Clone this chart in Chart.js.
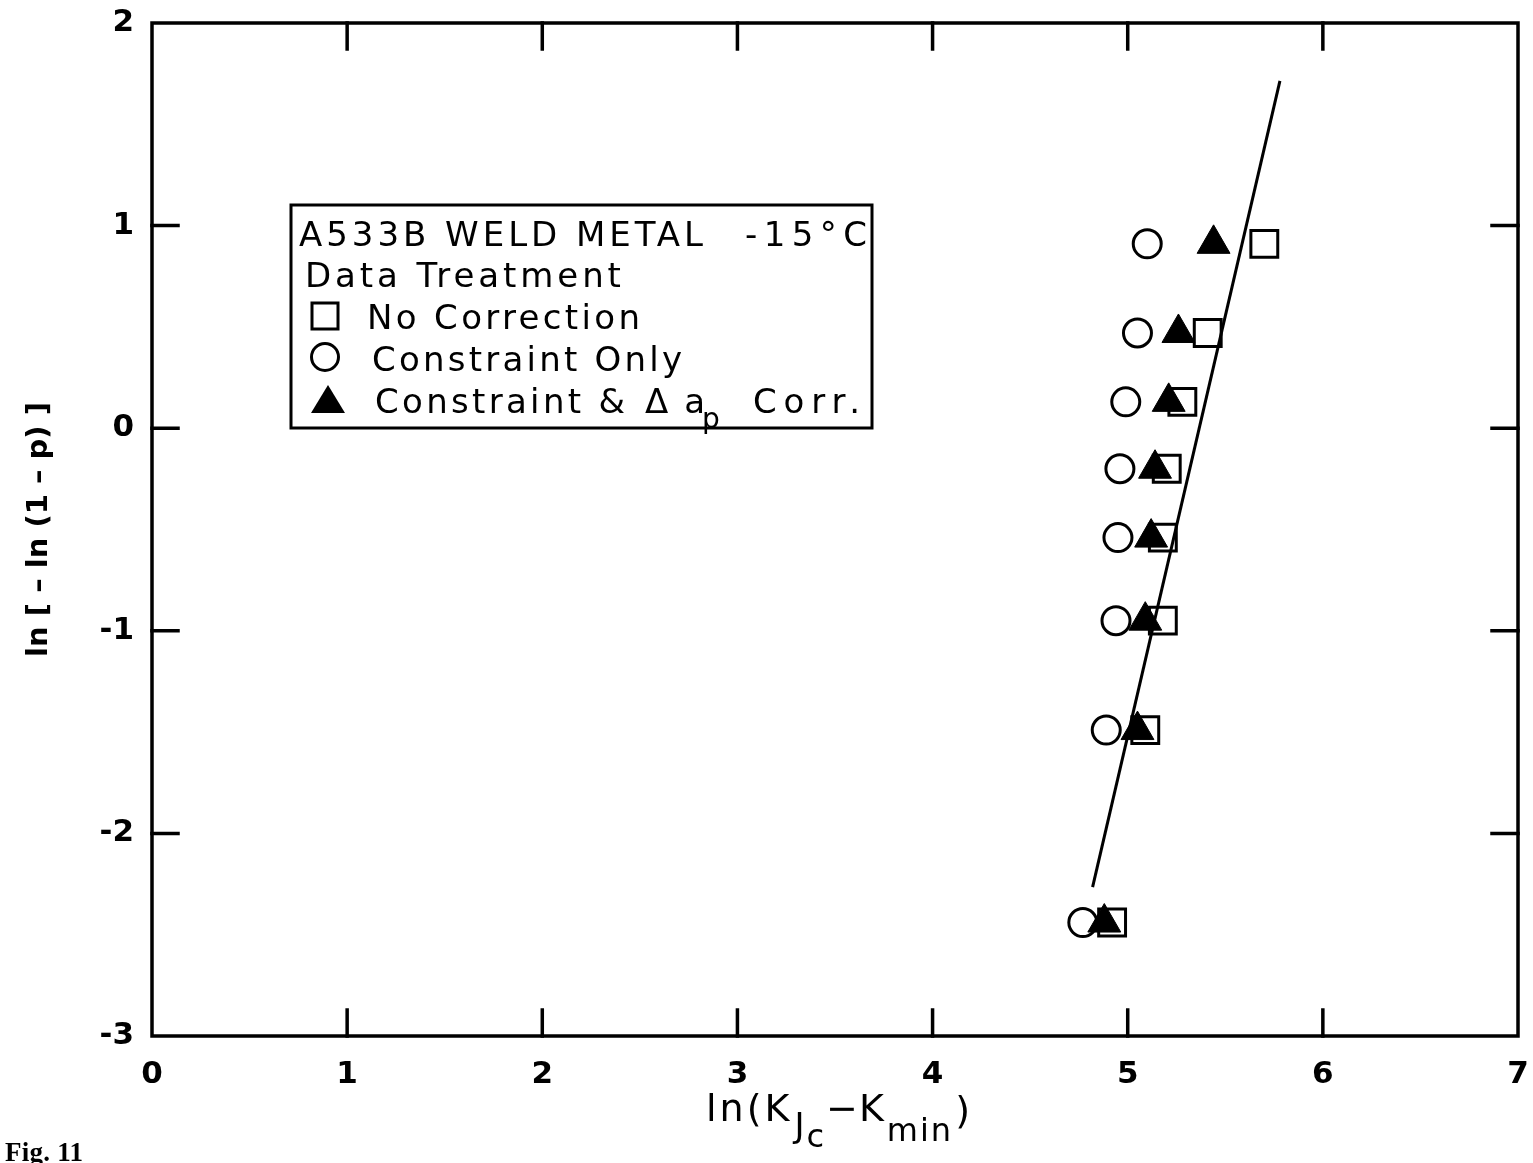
<!DOCTYPE html>
<html>
<head>
<meta charset="utf-8">
<script src="https://cdn.jsdelivr.net/npm/chart.js@4.4.0/dist/chart.umd.min.js"></script>
<style>
html,body{margin:0;padding:0;background:#fff;overflow:hidden;}
canvas{display:block;}
</style>
</head>
<body>
<canvas id="c" width="1541" height="1163"></canvas>
<script>
// ---- data ----
const yValues        = [-2.44, -1.49, -0.95, -0.54, -0.20, 0.13, 0.47, 0.91];
const xNoCorrection  = [4.92, 5.09, 5.18, 5.18, 5.20, 5.28, 5.41, 5.70];
const xConstraintOnly= [4.77, 4.89, 4.94, 4.95, 4.96, 4.99, 5.05, 5.10];
const xConstraintDa  = [4.88, 5.05, 5.09, 5.12, 5.14, 5.21, 5.26, 5.44];
const fitLineX = [4.82, 5.78];
const fitLineY = [-2.265, 1.714];
const xTicks = [0, 1, 2, 3, 4, 5, 6, 7];
const yTicks = [-3, -2, -1, 0, 1, 2];
const legendTitle = "A533B WELD METAL";
const legendTemp = "-15°C";
const legendSub = "Data Treatment";
const seriesNames = ["No Correction", "Constraint Only", "Constraint & Δap Corr."];
const yTitle = "ln [ – ln (1 – p) ]";
const xTitle = "ln(KJc−Kmin)";
const figLabel = "Fig. 11";

const pts = (xs, ys) => xs.map((x, i) => ({x: x, y: ys[i]}));

function fitText(ctx, text, x, y, target) {
  if ('letterSpacing' in ctx) {
    ctx.letterSpacing = '0px';
    const w = ctx.measureText(text).width;
    const n = Math.max(text.length - 1, 1);
    ctx.letterSpacing = ((target - w) / n).toFixed(2) + 'px';
  }
  ctx.fillText(text, x, y);
  if ('letterSpacing' in ctx) ctx.letterSpacing = '0px';
}

const decor = {
  id: 'decor',
  afterDraw(chart) {
    const {ctx, chartArea: a, scales: {x, y}} = chart;
    ctx.save();
    ctx.strokeStyle = '#000';
    ctx.fillStyle = '#000';
    ctx.lineWidth = 3.5;
    ctx.lineCap = 'square';
    // frame
    ctx.strokeRect(a.left, a.top, a.right - a.left, a.bottom - a.top);
    // inward ticks on all four sides
    const L = 26;
    ctx.beginPath();
    xTicks.forEach(v => {
      if (v === x.min || v === x.max) return;
      const px = x.getPixelForValue(v);
      ctx.moveTo(px, a.bottom); ctx.lineTo(px, a.bottom - L);
      ctx.moveTo(px, a.top); ctx.lineTo(px, a.top + L);
    });
    yTicks.forEach(v => {
      if (v === y.min || v === y.max) return;
      const py = y.getPixelForValue(v);
      ctx.moveTo(a.left, py); ctx.lineTo(a.left + L, py);
      ctx.moveTo(a.right, py); ctx.lineTo(a.right - L, py);
    });
    ctx.stroke();

    // legend box
    ctx.lineWidth = 3;
    ctx.lineCap = 'butt';
    ctx.strokeRect(291, 205, 581, 223);
    ctx.textBaseline = 'alphabetic';
    ctx.textAlign = 'left';
    ctx.font = '34px "DejaVu Sans"';
    fitText(ctx, legendTitle, 299, 246, 404);
    fitText(ctx, legendTemp, 745, 246, 122);
    fitText(ctx, legendSub, 305, 287, 316);
    fitText(ctx, seriesNames[0], 367, 329, 273);
    fitText(ctx, seriesNames[1], 372, 371, 310);
    fitText(ctx, "Constraint &", 375, 413, 250);
    fitText(ctx, "Δa", 645, 413, 60);
    ctx.font = '28px "DejaVu Sans"';
    ctx.fillText("p", 702, 428);
    ctx.font = '34px "DejaVu Sans"';
    fitText(ctx, "Corr.", 753, 413, 107);
    // legend symbols
    ctx.lineWidth = 3;
    ctx.strokeRect(312, 303, 26, 26);
    ctx.beginPath(); ctx.arc(325, 357, 13.5, 0, Math.PI * 2); ctx.stroke();
    ctx.beginPath();
    ctx.moveTo(328, 385); ctx.lineTo(345, 413); ctx.lineTo(311, 413); ctx.closePath();
    ctx.fill();

    // x axis title with subscripts
    const cx = (a.left + a.right) / 2 + 4;
    const segs = [
      {t: "ln(K", f: '38px "DejaVu Sans"', dy: 0, ls: 3},
      {t: "J", f: '34px "DejaVu Sans"', dy: 16, ls: 0},
      {t: "c", f: '32px "DejaVu Sans"', dy: 26, ls: 0},
      {t: "−K", f: '38px "DejaVu Sans"', dy: 0, ls: 1},
      {t: "min", f: '32px "DejaVu Sans"', dy: 20, ls: 2},
      {t: ")", f: '38px "DejaVu Sans"', dy: 2, ls: 0}
    ];
    let total = 0;
    segs.forEach(s => {
      ctx.font = s.f;
      if ('letterSpacing' in ctx) ctx.letterSpacing = s.ls + 'px';
      s.w = ctx.measureText(s.t).width + 2;
      total += s.w;
    });
    let xx = cx - total / 2;
    const base = 1121;
    segs.forEach(s => {
      ctx.font = s.f;
      if ('letterSpacing' in ctx) ctx.letterSpacing = s.ls + 'px';
      ctx.fillText(s.t, xx, base + s.dy);
      xx += s.w;
    });
    if ('letterSpacing' in ctx) ctx.letterSpacing = '0px';

    // figure label
    ctx.font = 'bold 27px "Liberation Serif"';
    fitText(ctx, figLabel, 5, 1161, 78);
    ctx.restore();
  }
};

new Chart(document.getElementById('c'), {
  type: 'scatter',
  data: {
    datasets: [
      {
        label: seriesNames[2],
        data: pts(xConstraintDa, yValues),
        pointStyle: 'triangle',
        pointRadius: 19,
        backgroundColor: '#000',
        borderColor: '#000',
        borderWidth: 1,
        order: 0
      },
      {
        label: 'fit',
        type: 'line',
        data: pts(fitLineX, fitLineY),
        borderColor: '#000',
        borderWidth: 3,
        pointRadius: 0,
        fill: false,
        order: 1
      },
      {
        label: seriesNames[1],
        data: pts(xConstraintOnly, yValues),
        pointStyle: 'circle',
        pointRadius: 14,
        backgroundColor: 'rgba(0,0,0,0)',
        borderColor: '#000',
        borderWidth: 3,
        order: 2
      },
      {
        label: seriesNames[0],
        data: pts(xNoCorrection, yValues),
        pointStyle: 'rect',
        pointRadius: 19,
        backgroundColor: 'rgba(0,0,0,0)',
        borderColor: '#000',
        borderWidth: 3,
        order: 3
      }
    ]
  },
  options: {
    responsive: false,
    animation: false,
    events: [],
    layout: {padding: {top: 23, right: 23, left: 0, bottom: 0}},
    plugins: {legend: {display: false}, tooltip: {enabled: false}},
    scales: {
      x: {
        type: 'linear',
        min: 0, max: 7,
        afterBuildTicks: s => { s.ticks = xTicks.map(v => ({value: v})); },
        grid: {display: false, drawTicks: false},
        border: {display: false},
        ticks: {color: '#000', padding: 20, font: {family: 'DejaVu Sans', size: 31, weight: 'bold'}},
        title: {display: false, text: xTitle},
        afterFit: s => { s.height = 127; s.paddingLeft = 0; s.paddingRight = 0; }
      },
      y: {
        type: 'linear',
        min: -3, max: 2,
        afterBuildTicks: s => { s.ticks = yTicks.map(v => ({value: v})); },
        grid: {display: false, drawTicks: false},
        border: {display: false},
        ticks: {color: '#000', padding: 18, font: {family: 'DejaVu Sans', size: 31, weight: 'bold'}},
        title: {display: true, text: yTitle, color: '#000', padding: {top: 22, bottom: 0},
                font: {family: 'DejaVu Sans', size: 29, weight: 'bold'}},
        afterFit: s => { s.width = 152; s.paddingTop = 0; s.paddingBottom = 0; }
      }
    }
  },
  plugins: [decor]
});
</script>
</body>
</html>
